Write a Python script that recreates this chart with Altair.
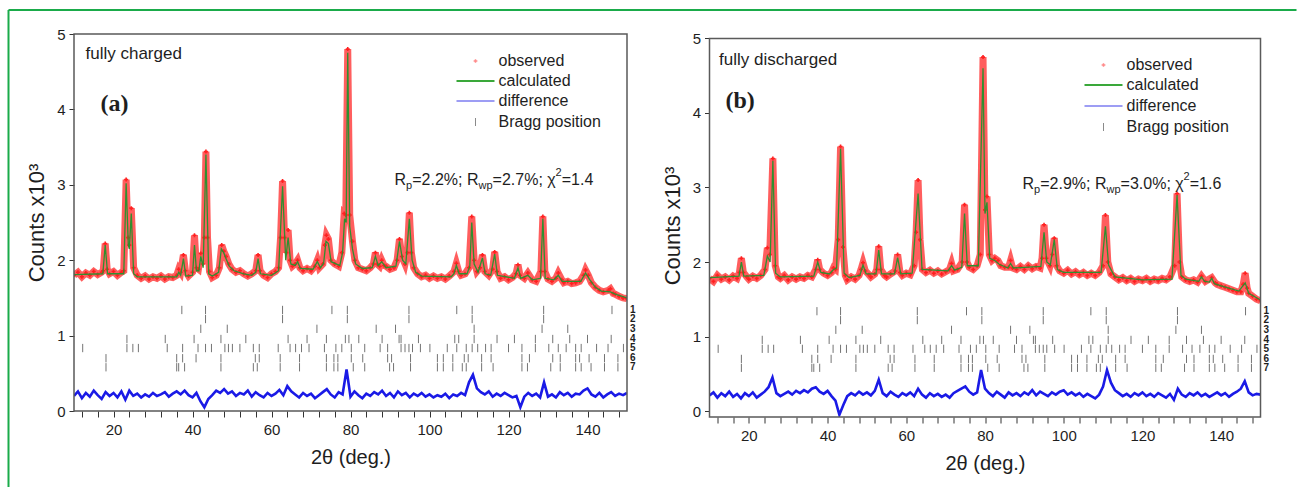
import altair as alt
import pandas as pd

# ---------------- data ----------------
X_DOMAIN = [10, 150]

OBS_A = [
    (10, 1.80), (11, 1.84), (12, 1.78), (13, 1.83), (14, 1.80), (15, 1.85), (16, 1.81), (17, 1.84),
    (17.4, 1.86), (17.9, 2.22), (18.4, 1.88), (19, 1.82), (20, 1.85), (21, 1.80), (22, 1.84),
    (22.6, 1.86), (23.2, 3.07), (23.7, 2.30), (24.0, 2.20), (24.5, 2.69), (25.1, 1.90),
    (26, 1.80), (27, 1.76), (28, 1.79), (29, 1.75), (30, 1.78), (31, 1.76), (32, 1.79), (33, 1.75),
    (34, 1.78), (35, 1.77), (36, 1.80), (36.5, 1.88), (37.0, 1.84), (37.7, 2.07), (38.2, 1.86),
    (39, 1.79), (40, 1.84), (40.5, 2.33), (41.0, 1.90), (41.5, 1.88), (42.1, 2.09), (42.6, 1.95),
    (43.0, 2.30), (43.4, 3.44), (43.8, 2.30), (44.3, 1.85), (45, 1.77), (46, 1.80), (46.8, 1.90),
    (47.4, 2.20), (47.9, 2.12), (48.5, 2.05), (49.2, 1.95), (50, 1.88), (51, 1.84), (52, 1.86),
    (53, 1.82), (54, 1.79), (55, 1.82), (56.0, 1.86), (56.6, 2.07), (57.1, 1.86), (58, 1.80),
    (59, 1.77), (60, 1.82), (61, 1.85), (61.8, 1.90), (62.3, 2.30), (62.8, 3.05), (63.3, 2.30),
    (63.8, 2.10), (64.2, 2.40), (64.7, 2.00), (65.3, 1.92), (66.0, 1.95), (66.6, 2.00), (67.2, 1.90),
    (68, 1.86), (69, 1.89), (70, 1.86), (71.0, 1.92), (71.6, 2.00), (72.1, 1.90), (73, 1.95),
    (73.5, 2.20), (73.9, 2.33), (74.4, 2.28), (75.0, 2.00), (76, 1.95), (77, 1.92), (77.8, 2.10),
    (78.4, 2.62), (78.8, 2.60), (79.3, 4.80), (79.8, 2.60), (80.5, 2.25), (81.1, 2.00), (82, 1.90),
    (83, 1.88), (84, 1.86), (85, 1.90), (85.8, 1.95), (86.3, 2.10), (86.8, 1.95), (87.4, 1.92),
    (87.9, 2.00), (88.5, 1.93), (89, 1.92), (90, 1.88), (91, 1.90), (91.8, 2.00), (92.4, 2.28),
    (93.0, 2.05), (93.8, 1.95), (94.4, 2.10), (94.9, 2.63), (95.4, 2.10), (96, 1.90), (97, 1.82),
    (98, 1.78), (99, 1.80), (100, 1.76), (101, 1.79), (102, 1.76), (103, 1.78), (104, 1.75),
    (105, 1.79), (106.2, 1.85), (106.8, 1.96), (107.4, 1.85), (108, 1.80), (109, 1.82), (110.0, 1.90),
    (110.7, 2.58), (111.3, 2.00), (112, 1.85), (112.8, 1.90), (113.4, 2.07), (114.0, 1.85), (115, 1.80),
    (116.0, 1.88), (116.5, 2.11), (117.1, 1.85), (118, 1.76), (119, 1.78), (120, 1.74), (121, 1.77),
    (121.9, 1.82), (122.4, 1.94), (122.9, 1.80), (124, 1.76), (124.9, 1.83), (126, 1.74), (127, 1.72),
    (128.2, 1.85), (128.7, 2.58), (129.2, 1.85), (130, 1.75), (131, 1.72), (132.0, 1.76), (132.6, 1.83),
    (133.5, 1.74), (134, 1.70), (135, 1.72), (136, 1.69), (137, 1.70), (138, 1.72), (139.0, 1.80),
    (139.5, 1.87), (140.2, 1.80), (141, 1.70), (142, 1.64), (143, 1.60), (144, 1.58), (145.3, 1.60),
    (145.8, 1.62), (146.5, 1.56), (147, 1.55), (148, 1.52), (149, 1.50), (150, 1.49),
]

CALC_A = [
    (10, 1.81), (17.3, 1.82), (17.9, 2.20), (18.5, 1.82), (22.6, 1.82), (23.2, 3.02), (23.75, 2.20),
    (24.0, 2.15), (24.5, 2.62), (25.1, 1.82), (26, 1.78), (36, 1.78), (36.5, 1.84), (37.0, 1.80),
    (37.7, 2.02), (38.3, 1.79), (40.0, 1.80), (40.5, 2.20), (41.0, 1.86), (41.6, 1.86), (42.1, 2.05),
    (42.7, 1.90), (43.4, 3.40), (44.1, 1.82), (45, 1.79), (46.6, 1.84), (47.3, 2.15), (47.9, 2.10),
    (48.5, 2.02), (49.3, 1.92), (50.5, 1.86), (53, 1.82), (55, 1.80), (56.0, 1.84), (56.6, 2.02),
    (57.2, 1.82), (60, 1.80), (61.8, 1.86), (62.8, 2.98), (63.6, 2.00), (64.2, 2.30), (64.9, 1.95),
    (66.0, 1.93), (66.6, 1.98), (67.3, 1.89), (70.5, 1.88), (71.6, 1.98), (72.4, 1.90), (73.2, 1.96),
    (73.8, 2.25), (74.4, 2.22), (75.1, 1.98), (77.3, 1.93), (78.0, 2.10), (78.5, 2.55), (78.9, 2.50),
    (79.3, 4.75), (79.8, 2.45), (80.5, 2.15), (81.3, 1.95), (83, 1.89), (85.5, 1.90), (86.3, 2.05),
    (87.0, 1.93), (87.9, 1.98), (89, 1.90), (91.5, 1.92), (92.4, 2.25), (93.2, 2.00), (94.0, 1.95),
    (94.9, 2.55), (95.6, 2.00), (96.5, 1.84), (98, 1.79), (105.5, 1.78), (106.2, 1.82), (106.8, 1.93),
    (107.5, 1.82), (109.5, 1.82), (110.2, 1.92), (110.7, 2.50), (111.3, 1.95), (112.3, 1.84),
    (113.4, 2.03), (114.1, 1.82), (115.5, 1.80), (116.5, 2.08), (117.2, 1.80), (121.5, 1.76),
    (122.4, 1.90), (123.1, 1.76), (124.9, 1.80), (126, 1.74), (128.1, 1.76), (128.7, 2.55),
    (129.3, 1.76), (131.5, 1.74), (132.6, 1.80), (133.6, 1.72), (138.3, 1.72), (139.5, 1.83),
    (140.6, 1.74), (142, 1.64), (143.5, 1.59), (145.8, 1.58), (147, 1.55), (150, 1.50),
]

# difference curve, one reading per degree from 10 to 150
DIFF_A = [
    0.20, 0.26, 0.17, 0.24, 0.19, 0.27, 0.21, 0.16, 0.25, 0.20,
    0.24, 0.18, 0.26, 0.15, 0.27, 0.20, 0.23, 0.18, 0.22, 0.19,
    0.24, 0.20, 0.22, 0.25, 0.19, 0.23, 0.26, 0.22, 0.27, 0.21,
    0.18, 0.24, 0.13, 0.05, 0.16, 0.21, 0.27, 0.24, 0.29, 0.23,
    0.26, 0.20, 0.24, 0.22, 0.27, 0.19, 0.25, 0.21, 0.18, 0.24,
    0.20, 0.23, 0.28, 0.21, 0.33, 0.26, 0.22, 0.18, 0.24, 0.20,
    0.23, 0.17, 0.21, 0.25, 0.29, 0.22, 0.18, 0.25, 0.22, 0.55,
    0.19, 0.26, 0.21, 0.17, 0.23, 0.20, 0.25, 0.22, 0.27, 0.20,
    0.24, 0.18, 0.26, 0.21, 0.24, 0.18, 0.23, 0.20, 0.24, 0.19,
    0.22, 0.18, 0.21, 0.19, 0.23, 0.17, 0.22, 0.20, 0.24, 0.21,
    0.38, 0.48, 0.30, 0.25, 0.22, 0.26, 0.19, 0.23, 0.20, 0.24,
    0.21, 0.18, 0.20, 0.05, 0.19, 0.24, 0.20, 0.23, 0.18, 0.38,
    0.19, 0.22, 0.18, 0.25, 0.21, 0.24, 0.19, 0.23, 0.22, 0.27,
    0.30, 0.22, 0.19, 0.24, 0.18, 0.22, 0.25, 0.20, 0.23, 0.21,
    0.24,
]

OBS_B = [
    (10, 1.78), (11, 1.74), (12, 1.82), (13, 1.77), (14, 1.80), (15, 1.76), (16, 1.81), (17, 1.78),
    (17.6, 1.86), (18.1, 2.05), (18.6, 1.86), (19.5, 1.80), (20, 1.77), (21, 1.81), (22, 1.78),
    (23, 1.82), (24.1, 1.90), (24.7, 2.19), (25.3, 2.10), (26.1, 3.39), (26.7, 1.95), (27.5, 1.80),
    (28, 1.78), (29, 1.82), (30, 1.76), (31, 1.80), (32, 1.77), (33, 1.80), (34, 1.78), (35, 1.82),
    (36, 1.80), (37.0, 1.90), (37.5, 2.03), (38.0, 1.90), (39, 1.85), (40, 1.82), (41.0, 1.86),
    (41.5, 1.92), (42.0, 1.90), (42.7, 2.30), (43.3, 3.55), (43.9, 2.20), (44.5, 1.82), (45, 1.76),
    (46, 1.80), (47, 1.77), (48, 1.82), (48.5, 1.90), (49.0, 1.99), (49.6, 1.88), (50.5, 1.83),
    (51, 1.80), (52, 1.84), (52.5, 1.90), (53.0, 2.21), (53.5, 1.90), (54.5, 1.82), (55, 1.80),
    (56, 1.84), (57.2, 1.88), (57.8, 2.10), (58.4, 1.86), (59, 1.82), (60, 1.85), (61, 1.83),
    (62.0, 1.95), (62.5, 2.40), (63.0, 3.10), (63.5, 2.30), (64.1, 1.90), (65, 1.86), (66, 1.89),
    (67, 1.85), (68, 1.88), (69, 1.84), (70, 1.87), (71.0, 1.90), (71.5, 1.98), (72.0, 1.88),
    (73, 1.90), (74.2, 2.00), (74.8, 2.77), (75.4, 2.00), (76, 1.93), (77, 1.90), (78, 1.95),
    (78.8, 2.10), (79.5, 4.75), (80.0, 2.70), (80.5, 2.88), (81.1, 2.10), (81.8, 2.02), (82.5, 2.05),
    (83.3, 2.02), (84, 1.95), (85, 1.93), (86.0, 1.93), (86.5, 2.02), (87.0, 1.92), (88, 1.90),
    (89, 1.94), (90, 1.90), (91, 1.95), (92, 1.91), (93, 1.94), (94, 1.92), (94.5, 2.05), (95.0, 2.50),
    (95.6, 2.05), (96.5, 1.95), (97.1, 2.10), (97.6, 2.32), (98.2, 1.95), (99, 1.88), (100, 1.85),
    (101, 1.89), (102, 1.84), (103, 1.87), (104, 1.83), (105, 1.86), (106, 1.82), (107, 1.85),
    (108, 1.82), (109, 1.86), (110.0, 1.95), (110.6, 2.63), (111.2, 2.00), (112, 1.84), (113, 1.80),
    (114, 1.76), (115, 1.79), (116, 1.75), (117, 1.78), (118, 1.74), (119, 1.77), (120, 1.75),
    (121, 1.78), (122, 1.74), (123, 1.77), (124, 1.75), (125, 1.78), (126, 1.76), (127, 1.80),
    (128.2, 1.95), (128.8, 2.92), (129.4, 2.00), (130, 1.80), (131, 1.76), (132, 1.74), (133, 1.76),
    (134, 1.73), (135.0, 1.81), (136, 1.74), (137.6, 1.79), (138.5, 1.72), (139, 1.70), (140, 1.68),
    (141, 1.66), (142, 1.64), (143, 1.62), (144, 1.60), (145, 1.60), (145.6, 1.70), (146.1, 1.85),
    (146.6, 1.65), (147, 1.58), (148, 1.54), (149, 1.50), (150, 1.48),
]

CALC_B = [
    (10, 1.79), (17.5, 1.81), (18.1, 2.00), (18.7, 1.81), (23.8, 1.82), (24.7, 2.08), (25.4, 2.00),
    (26.1, 3.36), (26.8, 1.85), (28, 1.80), (36.5, 1.81), (37.5, 2.00), (38.3, 1.86), (40.5, 1.84),
    (41.5, 1.90), (42.3, 1.92), (43.3, 3.52), (44.2, 1.85), (45.5, 1.79), (48.2, 1.82), (49.0, 1.96),
    (49.8, 1.84), (52.3, 1.84), (53.0, 2.16), (53.7, 1.84), (57.0, 1.84), (57.8, 2.06), (58.6, 1.84),
    (61.5, 1.85), (63.0, 2.92), (64.0, 1.90), (70.6, 1.88), (71.5, 1.95), (72.3, 1.89), (74.1, 1.93),
    (74.8, 2.65), (75.5, 1.95), (78.3, 1.95), (79.5, 4.60), (80.0, 2.65), (80.5, 2.80), (81.2, 2.05),
    (82.5, 2.02), (83.6, 1.97), (85.8, 1.92), (86.5, 1.98), (87.2, 1.92), (94.2, 1.94), (95.0, 2.40),
    (95.7, 2.00), (96.6, 1.96), (97.6, 2.30), (98.4, 1.90), (100, 1.86), (109.5, 1.86), (110.6, 2.48),
    (111.4, 1.96), (113, 1.80), (120, 1.76), (127.5, 1.77), (128.8, 2.90), (129.8, 1.82), (131, 1.77),
    (134.3, 1.74), (135.0, 1.80), (135.8, 1.74), (137.0, 1.73), (137.6, 1.78), (138.3, 1.71),
    (140, 1.68), (144.5, 1.61), (146.1, 1.72), (147, 1.58), (150, 1.49),
]

DIFF_B = [
    0.21, 0.25, 0.18, 0.24, 0.20, 0.26, 0.19, 0.23, 0.17, 0.24,
    0.20, 0.25, 0.18, 0.22, 0.26, 0.32, 0.45, 0.24, 0.20, 0.23,
    0.26, 0.22, 0.27, 0.24, 0.28, 0.25, 0.30, 0.32, 0.26, 0.23,
    0.27, 0.20, 0.14, -0.05, 0.08, 0.20, 0.24, 0.21, 0.26, 0.22,
    0.25, 0.21, 0.27, 0.42, 0.24, 0.20, 0.26, 0.22, 0.19, 0.24,
    0.21, 0.25, 0.20, 0.30, 0.22, 0.18, 0.24, 0.20, 0.23, 0.19,
    0.22, 0.18, 0.24, 0.27, 0.30, 0.33, 0.26, 0.22, 0.25, 0.55,
    0.30, 0.24, 0.20, 0.26, 0.22, 0.18, 0.25, 0.21, 0.24, 0.20,
    0.25, 0.22, 0.28, 0.21, 0.26, 0.23, 0.20, 0.25, 0.22, 0.26,
    0.28, 0.22, 0.25, 0.21, 0.24, 0.19, 0.23, 0.20, 0.17, 0.22,
    0.33, 0.55, 0.38, 0.28, 0.24, 0.20, 0.23, 0.19, 0.24, 0.21,
    0.25, 0.20, 0.23, 0.19, 0.24, 0.21, 0.18, 0.23, 0.15, 0.30,
    0.22, 0.19, 0.24, 0.21, 0.25, 0.20, 0.23, 0.19, 0.22, 0.25,
    0.21, 0.24, 0.19, 0.23, 0.26, 0.30, 0.40, 0.25, 0.21, 0.23,
    0.22,
]
DIFF_START = 10

BRAGG_ROWS = [
    [37.3, 43.3, 62.8, 75.3, 79.2, 94.8, 106.9, 110.8, 128.9, 146.2],
    [43.3, 62.8, 79.2, 94.8, 110.8, 128.9],
    [42.1, 48.8, 71.5, 86.5, 91.4, 111.3, 128.5, 135.0],
    [23.4, 33.1, 40.4, 47.2, 53.5, 64.2, 69.0, 73.9, 78.7, 79.6, 82.1, 88.0, 92.3, 92.8, 97.2,
     106.4, 107.4, 111.3, 117.1, 121.5, 126.8, 131.2, 135.5, 140.0, 146.0],
    [12.2, 23.4, 24.9, 26.3, 33.6, 37.5, 41.4, 43.3, 44.8, 48.2, 49.1, 50.1, 52.0, 55.4, 56.9,
     61.7, 64.7, 66.1, 67.6, 69.5, 73.4, 76.3, 77.8, 80.2, 83.6, 87.5, 89.4, 92.8, 93.8, 94.8,
     95.7, 97.7, 100.1, 104.5, 106.9, 109.3, 110.8, 112.2, 114.2, 115.6, 120.0, 123.4, 126.8,
     130.2, 132.6, 134.6, 137.0, 138.4, 142.3, 145.2, 149.1],
    [18.1, 36.0, 37.5, 40.9, 47.2, 55.9, 56.9, 62.2, 67.1, 73.9, 75.8, 76.8, 80.2, 83.1, 89.4,
     90.4, 95.2, 102.0, 103.5, 105.9, 108.8, 109.8, 113.2, 115.6, 123.4, 125.3, 131.2, 133.1,
     137.0, 138.0, 140.4, 144.3, 147.7],
    [18.1, 36.0, 36.5, 38.0, 47.2, 55.4, 56.4, 62.2, 67.1, 73.9, 75.8, 76.8, 80.7, 83.6, 89.9,
     90.9, 95.2, 102.0, 103.5, 105.9, 108.3, 109.3, 113.2, 116.1, 123.4, 124.8, 130.7, 133.1,
     137.0, 138.4, 140.9, 144.3, 147.7],
]
BRAGG_LEVELS = [1.34, 1.22, 1.09, 0.955, 0.835, 0.70, 0.58]
BRAGG_LABELS = ["1", "2", "3", "4", "5", "6", "7"]

LEGEND_LABELS = ["observed", "calculated", "difference", "Bragg position"]
PANEL_TITLES = ["fully charged", "fully discharged"]
PANEL_TAGS = ["(a)", "(b)"]
# (Rp, Rwp, chi2)
FIT_STATS = [("2.2", "2.7", "1.4"), ("2.9", "3.0", "1.6")]

X_TICKS = list(range(12, 149, 4))
Y_TICKS = [0, 1, 2, 3, 4, 5]

# ---------------- styling ----------------
SANS = "Liberation Sans"
SERIF = "Liberation Serif"
RED = "#ff2020"
GREEN = "#2f8f2f"
BLUE = "#1a1ae6"
GRAY = "#747474"
FRAME = "#5a5a5a"
TXT = "#1e1e1e"
BORDER = "#1aab4a"
TICK_HALF = 0.055

ONE = pd.DataFrame({"k": [0]})


def txt(s, px, py, size=16, font=SANS, weight="normal", align="left"):
    return alt.Chart(ONE).mark_text(
        text=s, font=font, fontSize=size, fontWeight=weight, color=TXT,
        align=align, baseline="middle",
    ).encode(x=alt.value(px), y=alt.value(py))


def panel(obs, calc, diff, width, height, ydom, frame_top, title, tag, stats,
          title_pos, tag_pos, stats_pos, leg_x, leg_y, border=False):
    xs = alt.Scale(domain=X_DOMAIN, nice=False, zero=False)
    ys = alt.Scale(domain=ydom, nice=False, zero=False)
    xaxis = alt.Axis(
        values=X_TICKS, labelExpr="datum.value % 20 == 0 ? datum.label : ''",
        title="2θ (deg.)", tickSize=6, labelPadding=5, titlePadding=10,
        domain=False, grid=False, labelFontSize=15, titleFontSize=20,
        labelFlush=False, labelOverlap=False,
    )
    yaxis = alt.Axis(
        values=Y_TICKS, title="Counts x10³", tickSize=5, labelPadding=4, titlePadding=8,
        domain=False, grid=False, labelFontSize=15, titleFontSize=22, format="d",
    )

    obs_df = pd.DataFrame(obs, columns=["x", "y"])
    calc_df = pd.DataFrame(calc, columns=["x", "y"])
    diff_df = pd.DataFrame({"x": list(range(DIFF_START, DIFF_START + len(diff))), "y": diff})
    brows = []
    for lvl, row in zip(BRAGG_LEVELS, BRAGG_ROWS):
        for p in row:
            brows.append({"x": p, "y": lvl - TICK_HALF, "y1": lvl + TICK_HALF})
    bragg_df = pd.DataFrame(brows)
    lab_df = pd.DataFrame({"label": BRAGG_LABELS, "y": BRAGG_LEVELS})

    X = alt.X("x:Q", scale=xs, axis=xaxis)
    Y = alt.Y("y:Q", scale=ys, axis=yaxis)

    layers = []
    layers.append(alt.Chart(obs_df).mark_line(color=RED, strokeWidth=7, opacity=0.72, clip=True).encode(
        x=X, y=Y))
    layers.append(alt.Chart(bragg_df).mark_rule(color=GRAY, strokeWidth=1, clip=True).encode(
        x=X, y=Y, y2="y1:Q"))
    layers.append(alt.Chart(diff_df).mark_line(color=BLUE, strokeWidth=2.6, clip=True).encode(
        x=X, y=Y))
    layers.append(alt.Chart(obs_df).mark_point(shape="cross", filled=True, size=16, color=RED,
                                               opacity=1, clip=True).encode(x=X, y=Y))
    layers.append(alt.Chart(calc_df).mark_line(color=GREEN, strokeWidth=1.3, clip=True).encode(
        x=X, y=Y))
    # Bragg row numbers at right
    layers.append(alt.Chart(lab_df).mark_text(
        font=SANS, fontSize=10, fontWeight="bold", color=TXT, align="left", baseline="middle"
    ).encode(x=alt.value(width + 3), y=Y, text="label:N"))
    # frame
    layers.append(alt.Chart(ONE).mark_rect(fillOpacity=0, stroke=FRAME, strokeWidth=1.5).encode(
        x=alt.value(0), x2=alt.value(width), y=alt.value(frame_top), y2=alt.value(height)))

    # annotations
    layers.append(txt(title, title_pos[0], title_pos[1], size=17))
    layers.append(txt(tag, tag_pos[0], tag_pos[1], size=24, font=SERIF, weight="bold"))
    sx, sy = stats_pos
    rp, rwp, chi = stats
    segs = [("R", 0, 0, 16), ("p", 11.6, 6, 11), ("=" + rp + "%; R", 17.7, 0, 16),
            ("wp", 84.0, 6, 11), ("=" + rwp + "%; χ", 98.1, 0, 16), ("2", 161.0, -7, 11),
            ("=" + chi, 167.2, 0, 16)]
    for s, dx, dy, fs in segs:
        layers.append(txt(s, sx + dx, sy + dy, size=fs))

    # legend
    L = 38
    layers.append(alt.Chart(ONE).mark_point(shape="cross", filled=True, size=14, color="#ff5a5a").encode(
        x=alt.value(leg_x + L / 2), y=alt.value(leg_y[0])))
    layers.append(alt.Chart(ONE).mark_rule(color="#3aa83a", strokeWidth=2).encode(
        x=alt.value(leg_x), x2=alt.value(leg_x + L), y=alt.value(leg_y[1])))
    layers.append(alt.Chart(ONE).mark_rule(color="#7c7cf0", strokeWidth=1.5).encode(
        x=alt.value(leg_x), x2=alt.value(leg_x + L), y=alt.value(leg_y[2])))
    layers.append(alt.Chart(ONE).mark_rule(color="#8a8a8a", strokeWidth=1).encode(
        x=alt.value(leg_x + L / 2), y=alt.value(leg_y[3] - 4), y2=alt.value(leg_y[3] + 4)))
    for lab, ly in zip(LEGEND_LABELS, leg_y):
        layers.append(txt(lab, leg_x + L + 4, ly, size=16))

    if border:
        layers.append(alt.Chart(ONE).mark_rule(color=BORDER, strokeWidth=2).encode(
            x=alt.value(-65.5), y=alt.value(-24), y2=alt.value(453)))
        layers.append(alt.Chart(ONE).mark_rule(color=BORDER, strokeWidth=2).encode(
            x=alt.value(-65.5), x2=alt.value(1222.5), y=alt.value(-24)))

    return alt.layer(*layers).properties(width=width, height=height)


pa = panel(OBS_A, CALC_A, DIFF_A, 553, 377, [0, 5], 0, PANEL_TITLES[0], PANEL_TAGS[0],
           FIT_STATS[0], (11.5, 20), (26.5, 70), (320.5, 146), 382.5, [27, 47, 67, 88], border=True)
pb = panel(OBS_B, CALC_B, DIFF_B, 551, 383, [-0.08, 5.06], 4.5, PANEL_TITLES[1], PANEL_TAGS[1],
           FIT_STATS[1], (9.5, 26), (16, 67), (313, 150), 375, [31, 51, 72, 93])

chart = alt.hconcat(pa, pb, spacing=82.5, bounds="flush").properties(
    padding={"left": 7, "top": 8, "right": 0, "bottom": 0}
).configure_view(stroke="transparent").configure_axis(
    labelFont=SANS, titleFont=SANS, labelColor=TXT, titleColor=TXT, tickColor="#333333",
    titleFontWeight="normal",
)

chart.save("out.html", embed_options={"renderer": "svg", "actions": False})
